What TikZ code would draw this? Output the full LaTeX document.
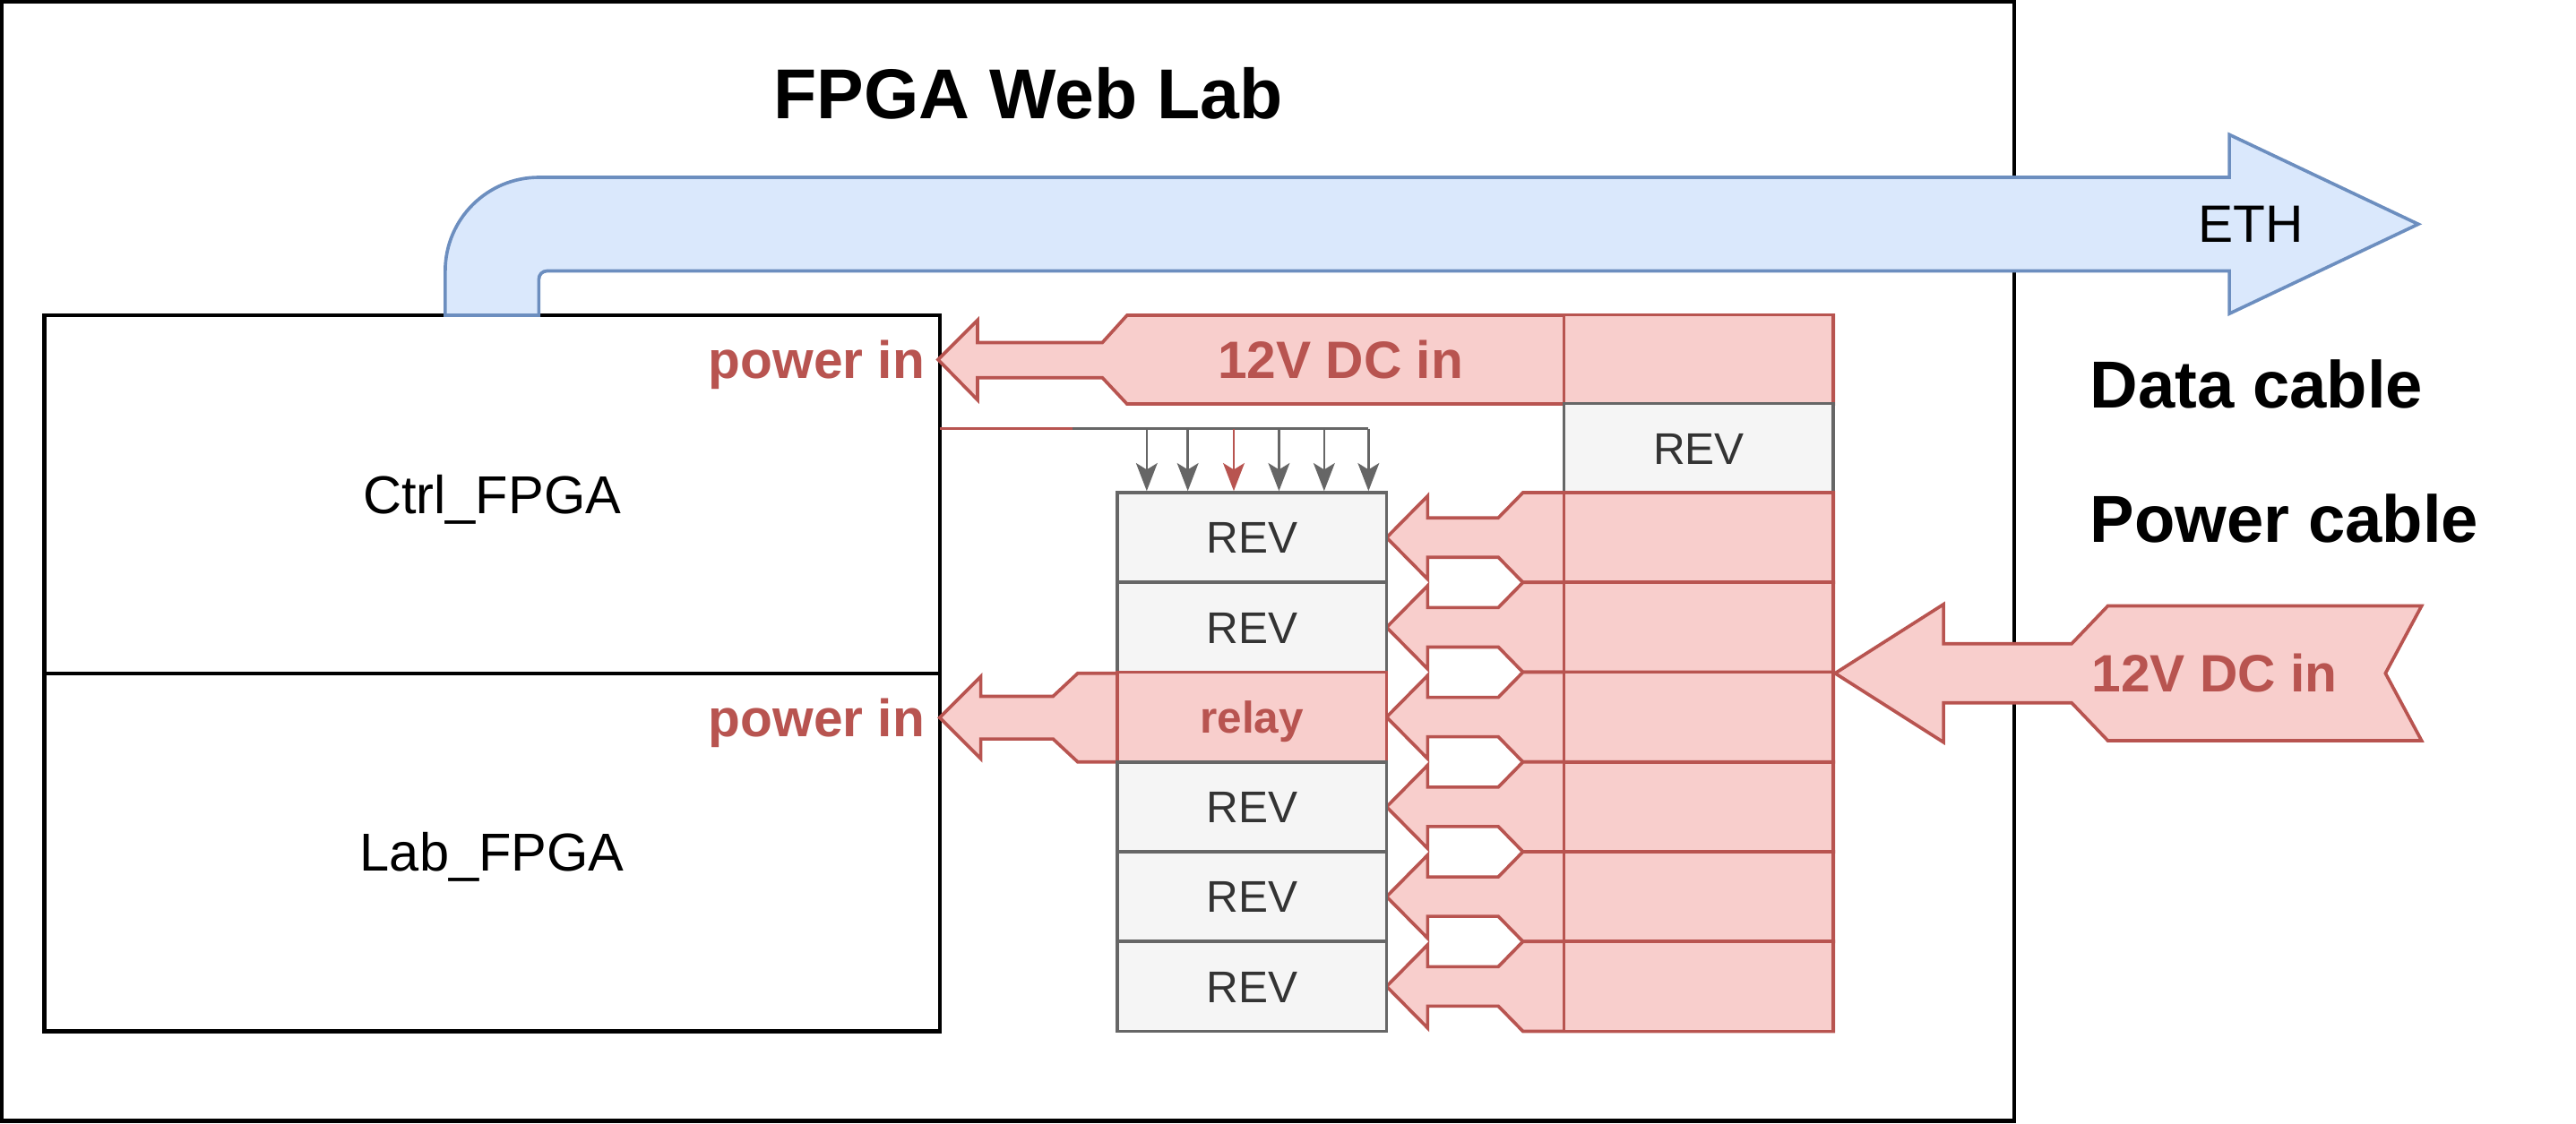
\documentclass[tikz,border=0pt]{standalone}
\usepackage{fontspec}
\setmainfont{Liberation Sans}
\usetikzlibrary{arrows.meta}
\definecolor{redS}{HTML}{B85450}
\definecolor{redF}{HTML}{F8CECC}
\definecolor{blueS}{HTML}{6C8EBF}
\definecolor{blueF}{HTML}{DAE8FC}
\definecolor{grayS}{HTML}{666666}
\definecolor{grayF}{HTML}{F5F5F5}
\definecolor{grayT}{HTML}{333333}
\tikzset{
  txt/.style={text depth=0pt,inner sep=0pt},
  fpga/.style={draw=black,line width=2.4pt,fill=white,minimum width=545pt,minimum height=218pt,txt,text height=23.3pt,font=\fontsize{32.5}{39}\selectfont},
  revbox/.style={draw=grayS,fill=grayF,line width=2pt,text=grayT,minimum width=164pt,minimum height=54.67pt,txt,text height=19.3pt,font=\fontsize{27}{32}\selectfont},
  relaybox/.style={revbox,draw=redS,fill=redF,text=redS,font=\fontsize{27}{32}\selectfont\bfseries},
  colbox/.style={draw=redS,fill=redF,line width=2pt,minimum width=164pt,minimum height=54.67pt,inner sep=0pt},
  redshape/.style={draw=redS,fill=redF,line width=2pt,line join=miter},
  blueshape/.style={draw=blueS,fill=blueF,line width=2pt,line join=miter},
  redlbl/.style={txt,text height=22.9pt,text=redS,font=\fontsize{32}{38}\selectfont\bfseries},
  biglbl/.style={txt,text height=29pt,font=\fontsize{40.5}{48}\selectfont\bfseries},
  tapline/.style={draw=grayS,line width=1.3pt},
  taparrow/.style={tapline,-{Stealth[length=17pt,width=13pt,inset=4pt]}},
}
\begin{document}
\begin{tikzpicture}[x=1pt,y=-1pt]
\useasboundingbox (0,0) rectangle (1568,684.4);
% outer frame
\node[draw=black,line width=2.4pt,minimum width=1224.8pt,minimum height=681.3pt,inner sep=0pt] (frame) at (613.6,341.85) {};
\node[txt,text height=30.8pt,font=\fontsize{43}{50}\selectfont\bfseries] (title) at (626,57) {FPGA Web Lab};
% FPGA boxes
\node[fpga] (ctrl) at (299.5,301) {Ctrl\_FPGA};
\node[fpga] (labf) at (299.5,519) {Lab\_FPGA};
% ETH arrow
\path[blueshape] (271,192) -- (271,165) .. controls (271,133.5) and (296.5,108) .. (328,108) -- (1357,108) -- (1357,82) -- (1472,136.5) -- (1357,191) -- (1357,165) -- (333,165) .. controls (330.2,165) and (328,167.2) .. (328,170) -- (328,192) -- cycle;
\node[txt,text height=22.9pt,font=\fontsize{32}{38}\selectfont] (eth) at (1370,136) {ETH};
% legend
\node[biglbl,anchor=west] (data) at (1272,234) {Data cable};
\node[biglbl,anchor=west] (power) at (1272,316) {Power cable};
% top power arrow
\path[redshape] (1116,192) -- (686,192) -- (671,208.6) -- (595,208.6) -- (595,195) -- (571,219) -- (595,243.5) -- (595,230) -- (671,230) -- (686,246) -- (1116,246) -- cycle;
\node[colbox] (col0) at (1034,219) {};
\node[redlbl] (dcA) at (816,219) {12V DC in};
\node[redlbl,anchor=east] (pinA) at (563,219) {power in};
% top right REV
\node[revbox] (revtop) at (1034,273) {REV};
% per-row supply arrows and right column
\foreach \i in {0,...,5} {
  \pgfmathsetmacro\ya{300+\i*54.6667}
  \pgfmathsetmacro\yb{\ya+54.6667}
  \pgfmathsetmacro\yc{\ya+27.3333}
  \path[redshape] (1116,\ya) -- (927,\ya) -- (912,\yc-12) -- (869,\yc-12) -- (869,\ya+2) -- (844,\yc) -- (869,\yb-2) -- (869,\yc+12) -- (912,\yc+12) -- (927,\yb) -- (1116,\yb) -- cycle;
  \node[colbox] (col\i) at (1034,\yc) {};
}
% relay power arrow
\path[redshape] (690,410) -- (656,410) -- (641,424) -- (597,424) -- (597,412) -- (572,437) -- (597,462) -- (597,450) -- (641,450) -- (656,464) -- (690,464) -- cycle;
\node[redlbl,anchor=east] (pinB) at (563,437) {power in};
% left REV column
\node[revbox] (rev1) at (762,327.33) {REV};
\node[revbox] (rev2) at (762,382) {REV};
\node[relaybox] (relay) at (762,436.67) {relay};
\node[revbox] (rev4) at (762,491.33) {REV};
\node[revbox] (rev5) at (762,546) {REV};
\node[revbox] (rev6) at (762,600.67) {REV};
% control taps
\coordinate (tapS) at (572,261);
\coordinate (tapR) at (653,261);
\coordinate (tapE) at (833,261);
\draw[tapline,draw=redS] (tapS) -- (tapR);
\draw[tapline] (tapR) -- (tapE);
\foreach \k/\x in {1/698,2/723,4/778.5,5/806,6/833} {
  \coordinate (t\k) at (\x,261);
  \draw[taparrow] (t\k) -- (t\k |- rev1.north);
}
\coordinate (t3) at (751,261);
\draw[taparrow,draw=redS,fill=redS] (t3) -- (t3 |- rev1.north);
% main 12V input
\path[redshape] (1117,410) -- (1183,368) -- (1183,392) -- (1261,392) -- (1283,369) -- (1474,369) -- (1452,410) -- (1474,451) -- (1283,451) -- (1261,428) -- (1183,428) -- (1183,452) -- cycle;
\node[redlbl] (dcB) at (1348,410) {12V DC in};
\end{tikzpicture}
\end{document}
